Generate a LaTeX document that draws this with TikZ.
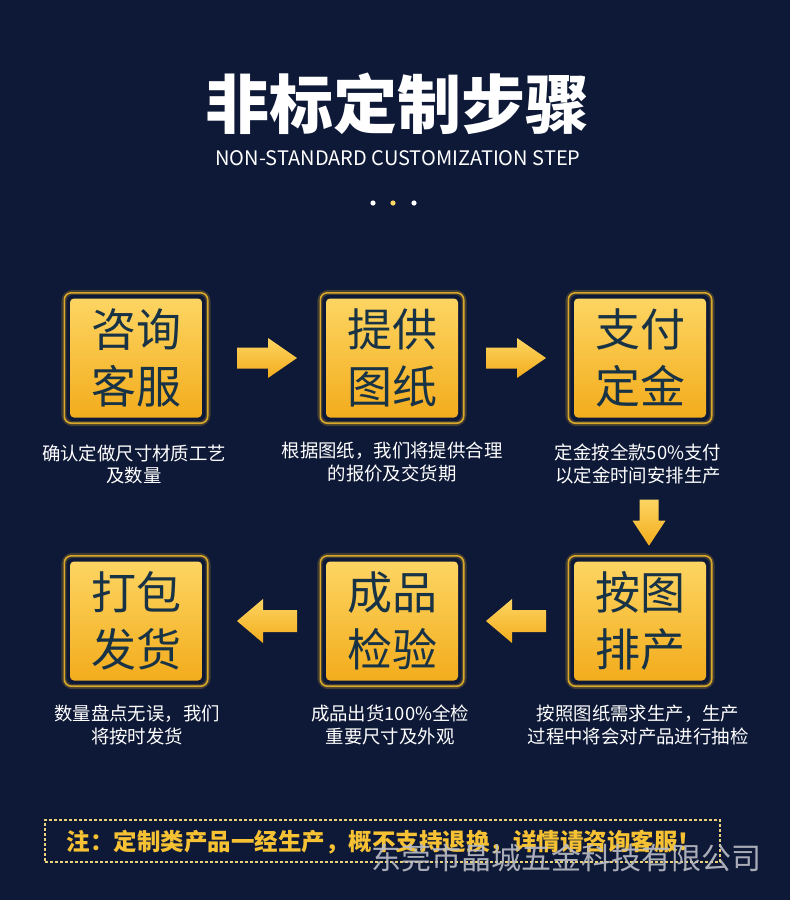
\documentclass[tikz,border=0pt]{standalone}
\usepackage{fontspec}
\setmainfont{Noto Sans CJK SC}
\usetikzlibrary{calc}
\definecolor{bg}{HTML}{0E1937}
\definecolor{boxtop}{HTML}{FDD562}
\definecolor{boxbot}{HTML}{F3AC1C}
\definecolor{boxtext}{HTML}{183246}
\definecolor{gold}{HTML}{D9A72A}
\definecolor{notecol}{HTML}{F6C233}
\definecolor{dashcol}{HTML}{EBD27A}
\begin{document}
\begin{tikzpicture}[x=1pt,y=-1pt,
  stepbox/.style={minimum width=132pt,minimum height=119pt,rounded corners=4pt,
    top color=boxtop,bottom color=boxbot,text=boxtext,align=center,inner sep=0pt,
    font=\fontsize{45}{57}\selectfont},
  desc/.style={text=white,align=center,inner sep=0pt,font=\fontsize{18.4}{22.5}\selectfont},
  frame/.style={draw=gold,line width=1.6pt,rounded corners=7pt},
  glowline/.style={draw=gold,opacity=0.25,line width=5pt,rounded corners=9pt},
  arrowshade/.style={top color=boxtop,bottom color=boxbot,draw=none},
]
\useasboundingbox (0,0) rectangle (790,900);
\fill[bg] (0,0) rectangle (790,900);

% title
\node[text=white,font=\fontsize{64}{64}\selectfont\bfseries] (title) at (397,104) {非标定制步骤};
\node[text=white,font=\fontsize{20}{22}\selectfont] (sub) at (398,158) {NON-STANDARD CUSTOMIZATION STEP};
\fill[white] (373,203) circle (2.6);
\fill[boxtop] (393,203) circle (2.6);
\fill[white] (414,203) circle (2.6);

% boxes
\node[stepbox] (b1) at (136,358) {咨询\\客服};
\node[stepbox] (b2) at (392,358) {提供\\图纸};
\node[stepbox] (b3) at (640,358) {支付\\定金};
\node[stepbox] (b4) at (640,621) {按图\\排产};
\node[stepbox] (b5) at (392,621) {成品\\检验};
\node[stepbox] (b6) at (136,621) {打包\\发货};

\foreach \n in {b1,b2,b3,b4,b5,b6}{
  \draw[glowline] ($(\n.north west)+(-6,-6)$) rectangle ($(\n.south east)+(6,6)$);
  \draw[frame] ($(\n.north west)+(-5.5,-5.5)$) rectangle ($(\n.south east)+(5.5,5.5)$);
}

% descriptions
\node[desc] (d1) at (134,464.5) {确认定做尺寸材质工艺\\及数量};
\node[desc] (d2) at (392,462) {根据图纸，我们将提供合理\\的报价及交货期};
\node[desc] (d3) at (638,464) {定金按全款50\%支付\\以定金时间安排生产};
\node[desc] (d4) at (638,725) {按照图纸需求生产，生产\\过程中将会对产品进行抽检};
\node[desc] (d5) at (390,725) {成品出货100\%全检\\重要尺寸及外观};
\node[desc] (d6) at (137,725) {数量盘点无误，我们\\将按时发货};

% arrows
\coordinate (a12) at ($(b1.east)!0.5!(b2.west)+(3,0)$);
\coordinate (a23) at ($(b2.east)!0.5!(b3.west)+(0,0)$);
\coordinate (a34) at ($(d3.south)!0.5!(b4.north)+(10,0)$);
\coordinate (a45) at ($(b5.east)!0.5!(b4.west)+(0,0)$);
\coordinate (a56) at ($(b6.east)!0.5!(b5.west)+(3,0)$);

\foreach \c in {a12,a23}{
  \shade[arrowshade,shift={(\c)}] (-30,-10.5) -- (1,-10.5) -- (1,-20) -- (30,0) -- (1,20) -- (1,10.5) -- (-30,10.5) -- cycle;
}
\foreach \c in {a45,a56}{
  \shade[arrowshade,shift={(\c)}] (30,-11) -- (-4,-11) -- (-4,-22) -- (-30,0) -- (-4,22) -- (-4,11) -- (30,11) -- cycle;
}
\shade[arrowshade,shift={(a34)}] (-9.5,-23) -- (9.5,-23) -- (9.5,-2) -- (16.5,-2) -- (0,23) -- (-16.5,-2) -- (-9.5,-2) -- cycle;

% notice
\node[draw=dashcol,line width=1.1pt,dash pattern=on 3pt off 2pt,minimum width=675pt,minimum height=42pt,inner sep=0pt] (note) at (382.5,841) {};
\node[text=notecol,font=\fontsize{23.5}{23.5}\selectfont\bfseries] (notetext) at (384,842) {注：定制类产品一经生产，概不支持退换，详情请咨询客服！};

% watermark
\node[text=white!72!bg,opacity=0.9,font=\fontsize{30}{30}\selectfont] (wm) at (566,858) {东莞市晶城五金科技有限公司};
\end{tikzpicture}
\end{document}
